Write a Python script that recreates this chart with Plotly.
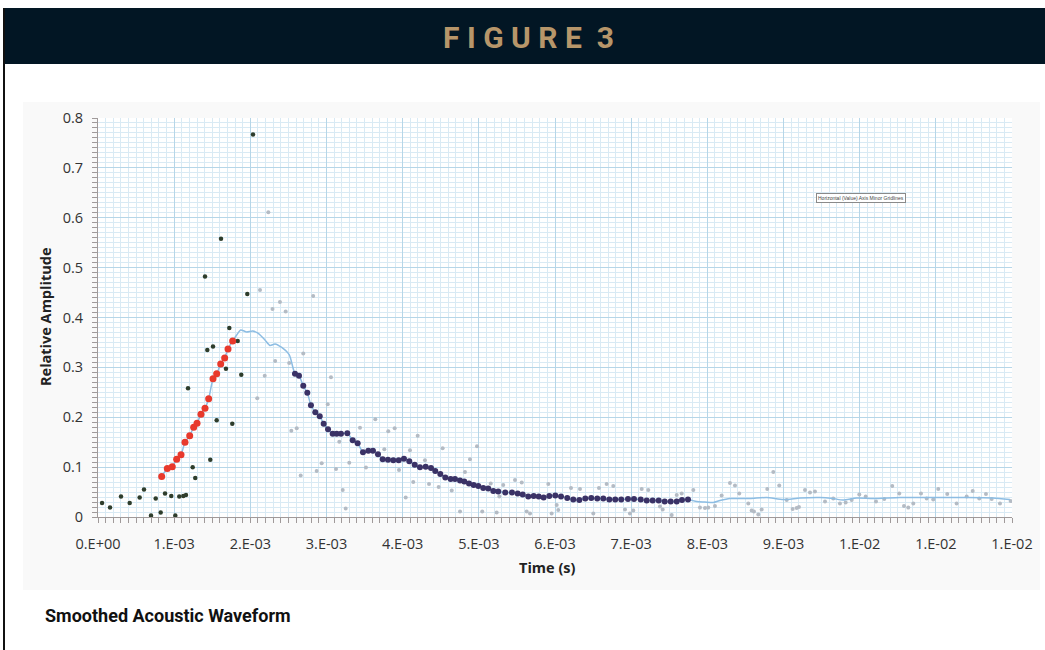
import numpy as np
import plotly.graph_objects as go

# ---------------- data (time in ms, relative amplitude) ----------------
red_t_ms = [0.836, 0.910, 0.975, 1.033, 1.090, 1.142, 1.204, 1.256, 1.300, 1.352,
            1.405, 1.453, 1.510, 1.558, 1.611, 1.663, 1.707, 1.768]
red_v = [0.081, 0.097, 0.101, 0.116, 0.125, 0.150, 0.163, 0.180, 0.188, 0.206,
         0.218, 0.237, 0.277, 0.287, 0.307, 0.319, 0.337, 0.353]

peak_t_ms = [1.821, 1.873, 1.952, 2.031, 2.105, 2.192, 2.258, 2.324, 2.412, 2.512]
peak_v = [0.365, 0.375, 0.371, 0.373, 0.368, 0.355, 0.344, 0.347, 0.340, 0.325]

purple_t_ms = [2.586, 2.639, 2.695, 2.748, 2.796, 2.853, 2.911, 2.963, 3.020, 3.081,
               3.134, 3.190, 3.273, 3.344, 3.409, 3.479, 3.549, 3.610, 3.676, 3.738,
               3.807, 3.877, 3.948, 4.017, 4.087, 4.158, 4.227, 4.302, 4.372, 4.428,
               4.494, 4.560, 4.630, 4.687, 4.753, 4.809, 4.871, 4.932, 4.993, 5.058,
               5.124, 5.190, 5.255, 5.347, 5.435, 5.510, 5.576, 5.649, 5.720, 5.786,
               5.851, 5.925, 6.004, 6.079, 6.161, 6.240, 6.319, 6.398, 6.476, 6.555,
               6.634, 6.713, 6.791, 6.870, 6.958, 7.037, 7.125, 7.204, 7.282, 7.361,
               7.440, 7.519, 7.598, 7.667, 7.746]
purple_v = [0.287, 0.283, 0.263, 0.249, 0.224, 0.210, 0.202, 0.187, 0.176, 0.167,
            0.167, 0.167, 0.168, 0.154, 0.148, 0.130, 0.133, 0.133, 0.126, 0.116,
            0.115, 0.114, 0.114, 0.117, 0.112, 0.105, 0.100, 0.101, 0.098, 0.092,
            0.086, 0.079, 0.076, 0.076, 0.073, 0.071, 0.067, 0.064, 0.062, 0.058,
            0.057, 0.052, 0.051, 0.049, 0.049, 0.047, 0.045, 0.041, 0.042, 0.041,
            0.039, 0.042, 0.043, 0.041, 0.038, 0.035, 0.034, 0.037, 0.038, 0.037,
            0.037, 0.035, 0.035, 0.035, 0.036, 0.036, 0.035, 0.033, 0.033, 0.033,
            0.031, 0.031, 0.031, 0.034, 0.035]

tail_t_ms = [7.860, 7.969, 8.078, 8.166, 8.297, 8.560, 8.779, 8.997, 9.216, 9.479,
             9.649, 9.781, 9.961, 10.175, 10.529, 10.962, 11.405, 11.750, 11.973]
tail_v = [0.031, 0.030, 0.029, 0.033, 0.037, 0.037, 0.039, 0.035, 0.038, 0.039,
          0.037, 0.034, 0.038, 0.037, 0.039, 0.039, 0.039, 0.038, 0.035]

dark_t_ms = [0.053, 0.158, 0.302, 0.416, 0.547, 0.604, 0.696, 0.758, 0.823, 0.880,
             0.962, 1.015, 1.067, 1.120, 1.155, 1.182, 1.243, 1.277, 1.405, 1.435,
             1.474, 1.510, 1.558, 1.615, 1.680, 1.724, 1.763, 1.834, 1.881, 1.960,
             2.035]
dark_v = [0.028, 0.019, 0.041, 0.028, 0.039, 0.055, 0.003, 0.037, 0.009, 0.047,
          0.042, 0.003, 0.041, 0.042, 0.044, 0.258, 0.100, 0.078, 0.482, 0.335,
          0.115, 0.342, 0.194, 0.558, 0.297, 0.379, 0.187, 0.353, 0.285, 0.447,
          0.767]

light_t_ms = [2.091, 2.127, 2.189, 2.236, 2.291, 2.326, 2.389, 2.464, 2.510, 2.538,
              2.609, 2.661, 2.695, 2.825, 2.871, 2.937, 3.016, 3.059, 3.125, 3.168,
              3.213, 3.252, 3.299, 3.440, 3.518, 3.641, 3.759, 3.811, 3.895, 3.952,
              4.040, 4.096, 4.139, 4.197, 4.293, 4.346, 4.473, 4.525, 4.644, 4.753,
              4.818, 4.884, 4.976, 5.045, 5.156, 5.234, 5.269, 5.321, 5.475, 5.563,
              5.628, 5.672, 5.912, 5.956, 6.022, 6.043, 6.210, 6.328, 6.503, 6.577,
              6.678, 6.765, 6.919, 6.984, 7.028, 7.138, 7.225, 7.378, 7.414, 7.532,
              7.598, 7.663, 7.816, 7.903, 7.969, 8.012, 8.100, 8.188, 8.297, 8.363,
              8.419, 8.538, 8.582, 8.612, 8.669, 8.713, 8.787, 8.866, 8.944, 9.042,
              9.120, 9.173, 9.203, 9.282, 9.348, 9.413, 9.545, 9.653, 9.741, 9.816,
              9.895, 9.995, 10.079, 10.214, 10.323, 10.428, 10.520, 10.582, 10.638, 10.704,
              10.805, 10.880, 10.966, 11.032, 11.150, 11.273, 11.405, 11.484, 11.570, 11.658,
              11.733, 11.842, 11.982]
light_v = [0.238, 0.455, 0.283, 0.611, 0.417, 0.313, 0.431, 0.412, 0.309, 0.173,
           0.178, 0.083, 0.328, 0.443, 0.092, 0.108, 0.226, 0.280, 0.096, 0.151,
           0.054, 0.017, 0.109, 0.179, 0.099, 0.196, 0.136, 0.172, 0.178, 0.094,
           0.039, 0.134, 0.070, 0.163, 0.114, 0.066, 0.060, 0.138, 0.053, 0.011,
           0.090, 0.116, 0.142, 0.011, 0.067, 0.009, 0.041, 0.064, 0.074, 0.069,
           0.011, 0.007, 0.066, 0.007, 0.024, 0.014, 0.058, 0.056, 0.007, 0.058,
           0.066, 0.062, 0.015, 0.007, 0.013, 0.056, 0.054, 0.021, 0.015, 0.004,
           0.044, 0.047, 0.054, 0.019, 0.018, 0.019, 0.022, 0.043, 0.068, 0.063,
           0.047, 0.027, 0.013, 0.011, 0.005, 0.015, 0.056, 0.090, 0.063, 0.034,
           0.016, 0.018, 0.020, 0.054, 0.049, 0.051, 0.031, 0.037, 0.027, 0.029,
           0.034, 0.045, 0.041, 0.031, 0.036, 0.062, 0.047, 0.022, 0.019, 0.027,
           0.047, 0.037, 0.035, 0.056, 0.046, 0.027, 0.041, 0.052, 0.037, 0.046,
           0.036, 0.027, 0.032]

x_tick_vals_ms = [0, 1, 2, 3, 4, 5, 6, 7, 8, 9, 10, 11, 12]
x_tick_labels = ["0.E+00", "1.E-03", "2.E-03", "3.E-03", "4.E-03", "5.E-03", "6.E-03",
                 "7.E-03", "8.E-03", "9.E-03", "1.E-02", "1.E-02", "1.E-02"]
y_tick_vals = [0, 0.1, 0.2, 0.3, 0.4, 0.5, 0.6, 0.7, 0.8]
y_tick_labels = ["0", "0.1", "0.2", "0.3", "0.4", "0.5", "0.6", "0.7", "0.8"]


def sec(ms):
    return [m * 1e-3 for m in ms]


line_t = sec(red_t_ms + peak_t_ms + purple_t_ms + tail_t_ms)
line_v = red_v + peak_v + purple_v + tail_v

# ---------------- figure ----------------
fig = go.Figure()
fig.add_trace(go.Scatter(x=sec(light_t_ms), y=light_v, mode="markers",
                         marker=dict(size=4, color="#b4bbc4"), showlegend=False))
fig.add_trace(go.Scatter(x=sec(dark_t_ms), y=dark_v, mode="markers",
                         marker=dict(size=4.5, color="#2e3d2c"), showlegend=False))
fig.add_trace(go.Scatter(x=line_t, y=line_v, mode="lines",
                         line=dict(color="#8dbde3", width=1.5, shape="spline", smoothing=0.6),
                         showlegend=False))
fig.add_trace(go.Scatter(x=sec(red_t_ms), y=red_v, mode="markers",
                         marker=dict(size=7, color="#e8392c"), showlegend=False))
fig.add_trace(go.Scatter(x=sec(purple_t_ms), y=purple_v, mode="markers",
                         marker=dict(size=6, color="#3a3266"), showlegend=False))

tick_font = dict(family="Open Sans, Liberation Sans, sans-serif", size=14.5, color="#333333")
axis_col = "#a09a9a"

fig.update_layout(
    width=1045, height=650,
    margin=dict(l=98, r=33, t=118, b=133),
    paper_bgcolor="white", plot_bgcolor="white",
    xaxis=dict(range=[0, 0.012], tickmode="array", tickvals=sec(x_tick_vals_ms),
               ticktext=x_tick_labels, tickfont=tick_font,
               showgrid=True, gridcolor="#b6d6e8", gridwidth=1, zeroline=False,
               showline=True, linecolor=axis_col, linewidth=1,
               ticks="outside", ticklen=5, tickcolor=axis_col, ticklabelstandoff=9,
               minor=dict(tickmode="linear", tick0=0, dtick=1e-4, showgrid=True,
                          gridcolor="#d9eaf4", gridwidth=1, ticks="outside",
                          ticklen=5, tickcolor=axis_col)),
    yaxis=dict(range=[0, 0.8], tickmode="array", tickvals=y_tick_vals,
               ticktext=y_tick_labels, tickfont=tick_font,
               showgrid=True, gridcolor="#b6d6e8", gridwidth=1, zeroline=False,
               showline=True, linecolor=axis_col, linewidth=1,
               ticks="outside", ticklen=5, tickcolor=axis_col, ticklabelstandoff=6,
               minor=dict(tickmode="linear", tick0=0, dtick=0.01, showgrid=True,
                          gridcolor="#d9eaf4", gridwidth=1, ticks="outside",
                          ticklen=5, tickcolor=axis_col)),
)


def px(x):
    return (x - 98) / 914.0


def py(y):
    return (517 - y) / 399.0


shapes = [
    # very light grey panel behind the chart
    dict(type="rect", xref="paper", yref="paper", x0=px(23), x1=px(1040), y0=py(590), y1=py(102),
         fillcolor="#f9f9f9", line=dict(width=0), layer="below"),
    dict(type="rect", xref="paper", yref="paper", x0=0, x1=1, y0=0, y1=1,
         fillcolor="white", line=dict(width=0), layer="below"),
    # header band
    dict(type="rect", xref="paper", yref="paper", x0=px(4), x1=px(1045), y0=py(64), y1=py(8),
         fillcolor="#021624", line=dict(width=0), layer="above"),
    # left border line
    dict(type="line", xref="paper", yref="paper", x0=px(4), x1=px(4), y0=py(650), y1=py(8),
         line=dict(color="#111111", width=2), layer="above"),
]
fig.update_layout(shapes=shapes)

annotations = [
    dict(text="<b>F I G U R E  3</b>", x=px(528), y=py(37), xref="paper", yref="paper",
         showarrow=False, xanchor="center", yanchor="middle",
         font=dict(family="Roboto, sans-serif", size=30, color="#b7966a")),
    dict(text="<b>Relative Amplitude</b>", x=px(45), y=py(317), xref="paper", yref="paper",
         showarrow=False, textangle=-90, xanchor="center", yanchor="middle",
         font=dict(family="Open Sans, Liberation Sans, sans-serif", size=14.5, color="#222222")),
    dict(text="<b>Time (s)</b>", x=px(547), y=py(567), xref="paper", yref="paper",
         showarrow=False, xanchor="center", yanchor="middle",
         font=dict(family="Open Sans, Liberation Sans, sans-serif", size=14.5, color="#222222")),
    dict(text="<b>Smoothed Acoustic Waveform</b>", x=px(43), y=py(615), xref="paper", yref="paper",
         showarrow=False, xanchor="left", yanchor="middle",
         font=dict(family="Roboto, sans-serif", size=18, color="#111111")),
    dict(text="Horizontal (Value) Axis Minor Gridlines", x=px(861), y=py(198), xref="paper",
         yref="paper", showarrow=False, xanchor="center", yanchor="middle",
         font=dict(family="Liberation Sans, sans-serif", size=5, color="#444444"),
         bgcolor="white", bordercolor="#8a8a8a", borderwidth=1, borderpad=1),
]
fig.update_layout(annotations=annotations)

fig.write_html("out.html")
